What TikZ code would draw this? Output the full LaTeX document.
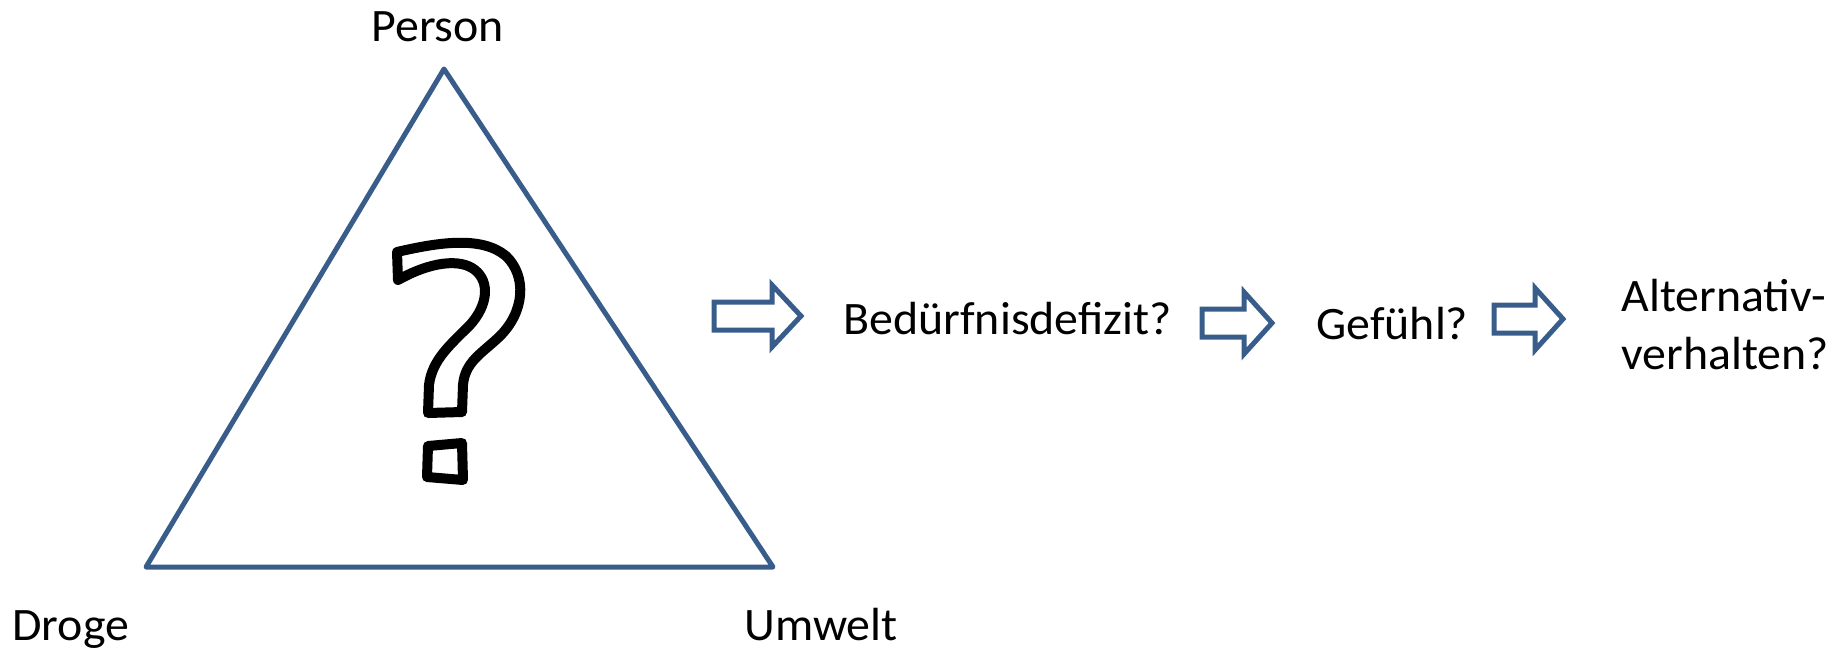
\documentclass[tikz,border=0pt]{standalone}
\usepackage{fontspec}
\setmainfont{Carlito}[FakeStretch=1.03]
\definecolor{outlineblue}{HTML}{385D8A}
\tikzset{every picture/.style={line width=0.8pt}}
\tikzset{
  txt/.style={inner sep=0pt, font=\fontsize{46.5}{58}\selectfont},
  blockarrow/.style={draw=outlineblue, line width=5pt, fill=white, line join=miter},
  qmark/.style={draw=black, line width=10pt, fill=white, line join=round}
}
\begin{document}
\begin{tikzpicture}[x=1pt, y=-1pt]
\useasboundingbox (0,0) rectangle (1845,649);
    % Triangle
\coordinate (top) at (444,69);
\coordinate (left) at (146,567);
\coordinate (right) at (773,567);
\draw[outlineblue, line width=5pt, line join=round] (top) -- (left) -- (right) -- cycle;

    % Corner labels
\node[txt, anchor=base west] (person) at (371,41) {Person};
\node[txt, anchor=base west] (droge) at (12,640) {Droge};
\node[txt, anchor=base west] (umwelt) at (744,640) {Umwelt};

    % Question mark
\draw[qmark] (397,252) .. controls (440,242) and (482,236) .. (506,256)
    .. controls (527,276) and (525,312) .. (499,337)
    .. controls (481,354) and (465,362) .. (463,385)
    -- (462,412) -- (428,413) -- (429,385)
    .. controls (432,360) and (450,345) .. (470,325)
    .. controls (488,305) and (490,282) .. (475,270)
    .. controls (460,258) and (430,262) .. (398,280) -- cycle;
\draw[qmark] (428,446) -- (462,443) -- (463,480) -- (427,477) -- cycle;

    % Block arrows
\draw[blockarrow] (714,302) -- (772,302) -- (772,285) -- (801,316) -- (772,347) -- (772,330) -- (714,330) -- cycle;
\draw[blockarrow] (1202,309) -- (1244,309) -- (1244,292) -- (1272,323) -- (1244,354) -- (1244,337) -- (1202,337) -- cycle;
\draw[blockarrow] (1494,305) -- (1535,305) -- (1535,288) -- (1563,319) -- (1535,350) -- (1535,333) -- (1494,333) -- cycle;

    % Chain labels
\node[txt, anchor=base west] (defizit) at (843,334) {Bedürfnisdefizit?};
\node[txt, anchor=base west] (gefuehl) at (1316,339) {Gefühl?};
\node[txt, anchor=south west, align=left] (verhalten) at (1621,370) {Alternativ-\\verhalten?};
\end{tikzpicture}
\end{document}
